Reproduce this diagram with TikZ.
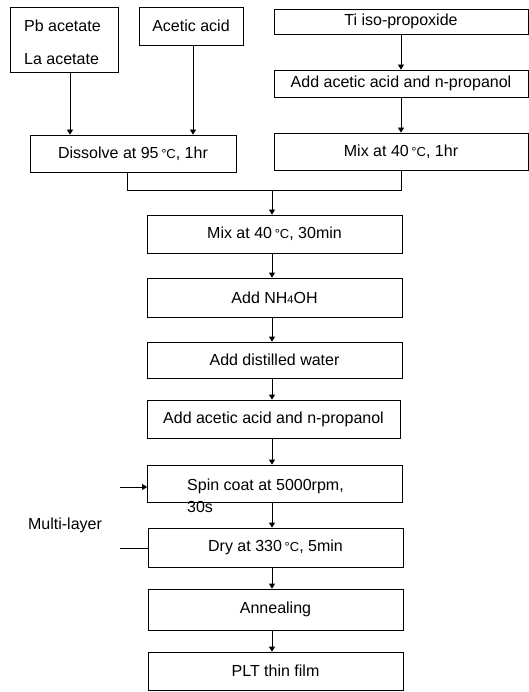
\documentclass[tikz,border=0pt]{standalone}
\usepackage{fontspec}
\setmainfont{Liberation Sans}
\usetikzlibrary{arrows.meta}
\newcommand{\degC}{\,{\fontsize{13}{13}\selectfont °C}}
\begin{document}
\begin{tikzpicture}[x=1pt,y=-1pt,
  box/.style={draw, line width=0.8pt, inner sep=0pt, font=\fontsize{16}{20}\selectfont},
  conn/.style={line width=0.8pt},
  arr/.style={line width=0.8pt, -{Triangle[width=6pt,length=5pt]}},
  lbl/.style={inner sep=0pt, font=\fontsize{16}{22}\selectfont}]
\useasboundingbox (0,0) rectangle (529,692);
% top row
\node[box, minimum width=108pt, minimum height=65pt] (pb) at (64,39.5) {};
\node[lbl, anchor=west] (pbt) at (24,26) {Pb acetate};
\node[lbl, anchor=west] (lat) at (24,59) {La acetate};
\node[box, minimum width=104pt, minimum height=38pt] (ac) at (191,26) {Acetic acid};
\node[box, minimum width=254pt, minimum height=25pt] (ti) at (401,21.5) {Ti iso-propoxide};
\node[box, minimum width=254pt, minimum height=27pt] (add1) at (401,83.5) {Add acetic acid and n-propanol};
\node[box, minimum width=254pt, minimum height=37pt] (mix1) at (401,151.5) {Mix at 40\degC, 1hr};
\node[box, minimum width=206pt, minimum height=37pt] (dis) at (133,153.5) {Dissolve at 95\degC, 1hr};
% main column
\node[box, minimum width=255pt, minimum height=38pt] (mix30) at (274.5,234) {Mix at 40\degC, 30min};
\node[box, minimum width=255pt, minimum height=39pt] (nh) at (274.5,297.5) {Add NH{\fontsize{11}{11}\selectfont 4}OH};
\node[box, minimum width=255pt, minimum height=36pt] (dw) at (274.5,360) {Add distilled water};
\node[box, minimum width=253pt, minimum height=38pt] (add2) at (273.5,419) {Add acetic acid and n-propanol};
\node[box, minimum width=255pt, minimum height=37pt] (spin) at (275,483.5) {};
\node[lbl, anchor=north west, align=left] (spint) at (187,479) {Spin coat at 5000rpm,\\30s};
\node[box, minimum width=255pt, minimum height=39pt] (dry) at (275.5,547.5) {Dry at 330\degC, 5min};
\node[box, minimum width=255pt, minimum height=41pt] (ann) at (275.5,609.5) {Annealing};
\node[box, minimum width=255pt, minimum height=38pt] (plt) at (275.5,671) {PLT thin film};
\node[lbl] (ml) at (65,525) {Multi-layer};
% coordinates
\coordinate (j1) at (127,190);
\coordinate (j2) at (401,190);
\coordinate (j3) at (272,190);
\coordinate (mlin) at (120,487);
\coordinate (mlout) at (120,548);
% connectors
\draw[arr] (pb.south -| 70,0) -- (dis.north -| 70,0);
\draw[arr] (ac.south -| 193,0) -- (dis.north -| 193,0);
\draw[arr] (ti.south) -- (add1.north);
\draw[arr] (add1.south) -- (mix1.north);
\draw[conn] (dis.south -| j1) -- (j1) -- (j2) -- (mix1.south);
\draw[arr] (j3) -- (mix30.north -| j3);
\draw[arr] (mix30.south -| j3) -- (nh.north -| j3);
\draw[arr] (nh.south -| j3) -- (dw.north -| j3);
\draw[arr] (dw.south -| j3) -- (add2.north -| j3);
\draw[arr] (add2.south -| j3) -- (spin.north -| j3);
\draw[arr] (spin.south -| j3) -- (dry.north -| j3);
\draw[arr] (dry.south -| j3) -- (ann.north -| j3);
\draw[arr] (ann.south -| j3) -- (plt.north -| j3);
\draw[arr] (mlin) -- (spin.west |- mlin);
\draw[conn] (dry.west |- mlout) -- (mlout);
\end{tikzpicture}
\end{document}
